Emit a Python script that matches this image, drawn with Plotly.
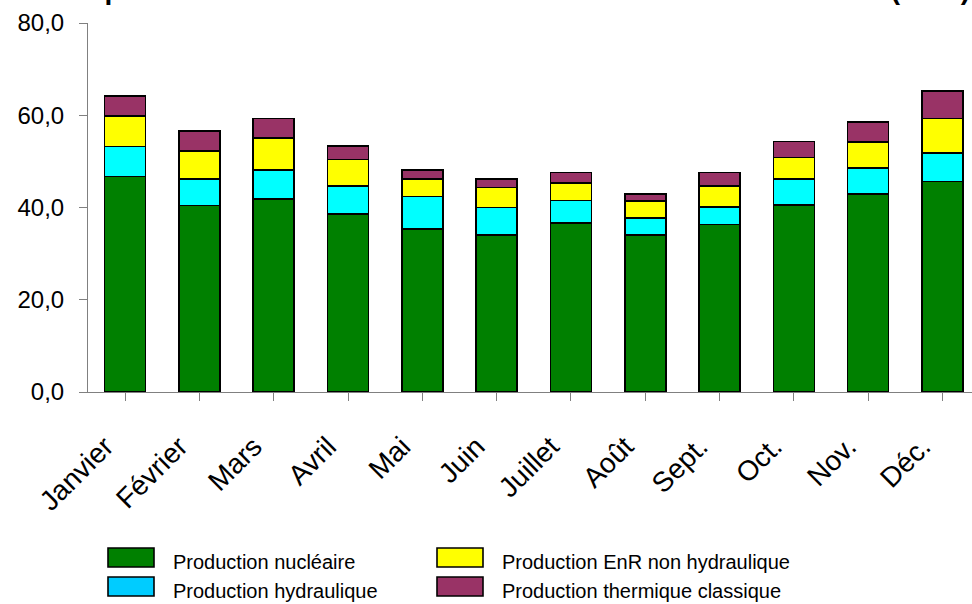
import plotly.graph_objects as go

# Monthly electricity production by source (TWh)
mois = ["Janvier", "Février", "Mars", "Avril", "Mai", "Juin",
        "Juillet", "Août", "Sept.", "Oct.", "Nov.", "Déc."]

nucleaire = [46.7, 40.4, 41.9, 38.6, 35.3, 34.0, 36.7, 34.0, 36.3, 40.5, 42.9, 45.6]
hydraulique = [6.5, 5.8, 6.2, 6.1, 7.1, 6.0, 4.8, 3.7, 3.8, 5.7, 5.6, 6.2]
enr_non_hydro = [6.6, 6.0, 7.0, 5.7, 3.8, 4.3, 3.8, 3.7, 4.6, 4.6, 5.7, 7.5]
thermique = [4.4, 4.4, 4.2, 2.9, 1.9, 1.9, 2.3, 1.5, 2.9, 3.5, 4.3, 5.9]

series_names = ["Production nucléaire", "Production hydraulique",
                "Production EnR non hydraulique", "Production thermique classique"]
bar_colors = ["#008000", "#00FFFF", "#FFFF00", "#993366"]
key_colors = ["#008000", "#00CCFF", "#FFFF00", "#993366"]

y_ticks = [0, 20, 40, 60, 80]

W, H = 972, 604
M_L, M_R, M_T, M_B = 88, 0, 23, 212
PLOT_W = W - M_L - M_R
PLOT_H = H - M_T - M_B
CAT_W = 74.3  # pixel width of one month slot

FONT = "Liberation Sans, Arial, sans-serif"


def px_x(x):
    return (x - M_L) / PLOT_W


def px_y(y):
    return (H - M_B - y) / PLOT_H


fig = go.Figure()
for name, vals, col in zip(series_names, [nucleaire, hydraulique, enr_non_hydro, thermique], bar_colors):
    fig.add_trace(go.Bar(
        x=list(range(len(mois))), y=vals, name=name,
        marker=dict(color=col, line=dict(color="#000000", width=1.6)),
        showlegend=False,
    ))

# Legend drawn as two columns of swatches and labels under the axis
key_pos = [(108, 548), (108, 577), (437, 548), (437, 577)]
for (kx, ky), col, name in zip(key_pos, key_colors, series_names):
    fig.add_shape(type="rect", xref="paper", yref="paper",
                  x0=px_x(kx), x1=px_x(kx + 46), y0=px_y(ky), y1=px_y(ky + 19),
                  fillcolor=col, line=dict(color="#000000", width=1.6))
    fig.add_annotation(xref="paper", yref="paper", x=px_x(kx + 63), y=px_y(ky + 14),
                       xanchor="left", yanchor="middle", showarrow=False,
                       text=name, font=dict(family=FONT, size=20, color="#000000"))

# Chart title, sitting mostly above the top edge
fig.add_annotation(xref="paper", yref="paper", x=px_x(972), y=px_y(7),
                   xanchor="right", yanchor="bottom", showarrow=False,
                   text="<b>La production mensuelle d'électricité nette en France en 2010 (TWh)</b>",
                   font=dict(family=FONT, size=28, color="#000000"))

fig.update_layout(
    width=W, height=H,
    margin=dict(l=M_L, r=M_R, t=M_T, b=M_B),
    barmode="stack", bargap=0.448,
    plot_bgcolor="white", paper_bgcolor="white",
    separators=",.",
    font=dict(family=FONT, color="#000000"),
    xaxis=dict(
        tickmode="array", tickvals=list(range(len(mois))), ticktext=mois,
        range=[-0.5, -0.5 + PLOT_W / CAT_W],
        tickangle=-45, tickfont=dict(size=28, family=FONT),
        ticks="outside", tickson="boundaries", ticklen=8, tickcolor="#808080",
        ticklabelshift=-20, ticklabelstandoff=18,
        showline=True, linecolor="#808080", linewidth=1,
        showgrid=False, zeroline=False,
    ),
    yaxis=dict(
        range=[0, 80], tickvals=y_ticks, tickformat=".1f",
        tickfont=dict(size=24, family=FONT),
        ticks="outside", ticklen=8, tickcolor="#808080",
        ticklabelstandoff=10,
        showline=True, linecolor="#808080", linewidth=1,
        showgrid=False, zeroline=False,
    ),
)

fig.write_html("out.html")
